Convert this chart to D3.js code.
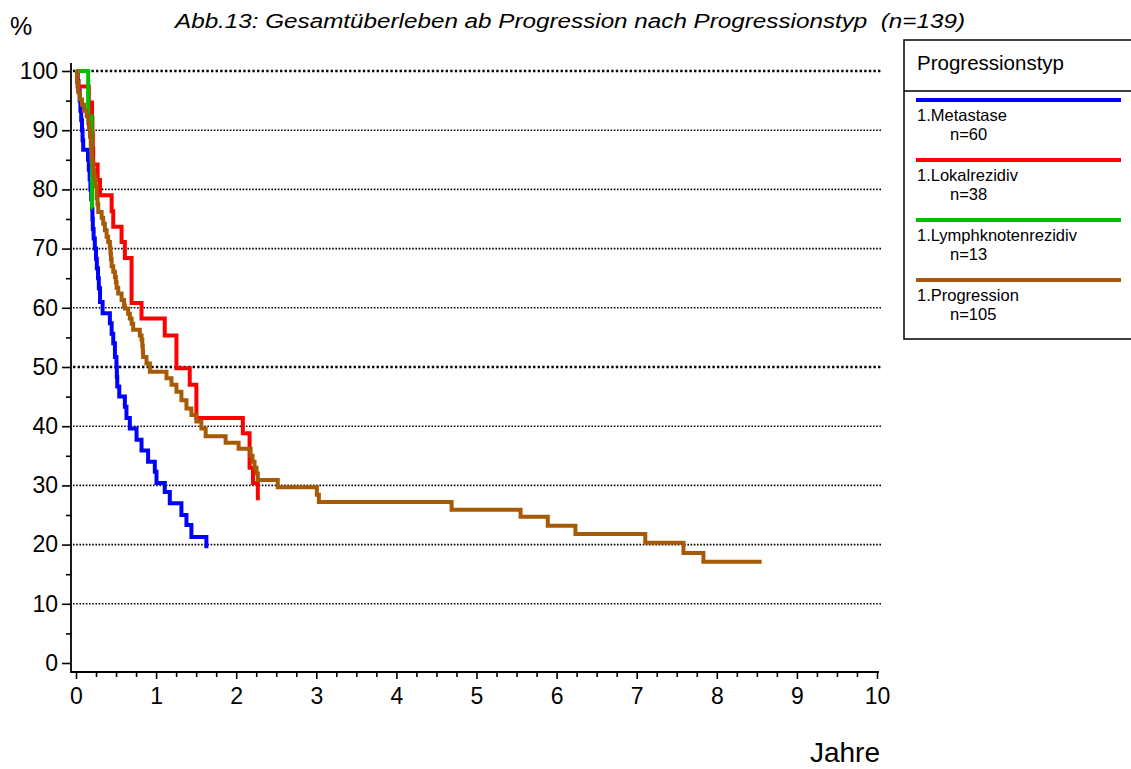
<!DOCTYPE html>
<html><head><meta charset="utf-8">
<script src="https://cdn.jsdelivr.net/npm/d3@7"></script>
<style>
html,body{margin:0;padding:0;background:#fff;}
svg{display:block;font-family:"Liberation Sans",Arial,sans-serif;}
</style></head>
<body>
<svg id="chart" width="1131" height="769"></svg>
<script>
// ---------- data ----------
const title = "Abb.13: Gesamtüberleben ab Progression nach Progressionstyp  (n=139)";
const yLabel = "%";
const xLabel = "Jahre";
const legendTitle = "Progressionstyp";
const seriesNames = ["1.Metastase", "1.Lokalrezidiv", "1.Lymphknotenrezidiv", "1.Progression"];
const seriesN = ["n=60", "n=38", "n=13", "n=105"];
const seriesColors = ["#0000ff", "#ff0000", "#00c000", "#a65a05"];
const xTicks = [0,1,2,3,4,5,6,7,8,9,10];
const yTicks = [0,10,20,30,40,50,60,70,80,90,100];

const metaT = [0,0.02,0.03,0.045,0.055,0.065,0.075,0.082,0.09,0.15,0.16,0.17,0.18,0.19,0.2,0.205,0.21,0.22,0.235,0.25,0.26,0.275,0.285,0.3,0.332,0.423,0.445,0.465,0.486,0.505,0.51,0.515,0.54,0.61,0.63,0.672,0.756,0.818,0.9,0.984,1.005,1.108,1.171,1.316,1.379,1.441,1.628];
const metaS = [100,98.3,96.7,95,93.3,91.7,90,88.3,86.7,85,83.3,81.7,80,78.3,76.7,75,73.3,71.7,70,68.3,66.7,65,63.3,61.0,59.1,57.4,55.6,54.0,51.7,50.0,48.3,46.7,45.0,43.3,41.4,39.6,37.7,35.9,34.0,32.3,30.4,28.9,27.0,25.0,23.3,21.3,19.4];

const lokalT = [0,0.02,0.16,0.2,0.205,0.21,0.215,0.27,0.3,0.445,0.465,0.569,0.61,0.694,0.818,1.108,1.254,1.42,1.503,2.083,2.167,2.21,2.27];
const lokalS = [100,97.4,94.7,92.1,89.5,86.8,84.2,81.6,79.0,76.3,73.7,71.1,68.4,60.8,58.2,55.3,49.8,47.0,41.4,38.8,33.0,30.4,27.5];

const lymphT = [0,0.152,0.195,0.2,0.205];
const lymphS = [100,92.3,84.6,76.9,76.9];

const progT = [0,0.012,0.029,0.05,0.075,0.1,0.133,0.153,0.162,0.174,0.184,0.19,0.196,0.205,0.215,0.224,0.237,0.247,0.258,0.268,0.278,0.32,0.34,0.361,0.382,0.402,0.423,0.43,0.436,0.445,0.465,0.486,0.498,0.507,0.527,0.569,0.6,0.61,0.651,0.672,0.694,0.714,0.797,0.818,0.828,0.834,0.838,0.88,0.922,1.13,1.192,1.254,1.316,1.379,1.441,1.503,1.565,1.619,1.868,2.03,2.18,2.204,2.229,2.254,2.27,2.519,3.007,3.032,4.689,5.55,5.89,6.235,7.107,7.584,7.833,8.56];
const progS = [100,98.1,96.4,95.2,94.3,93.3,92.4,91.2,90.2,88.9,87.6,86.5,85.5,84.4,83.3,82.4,81.6,80.5,78.5,77.5,76.2,75.2,74.2,73.1,72.0,71.1,70.2,69.2,68.2,67.0,66.1,65.2,64.3,63.4,62.4,61.3,60.4,59.9,59.0,58.2,57.3,56.3,55.3,54.6,53.6,52.6,51.7,50.6,49.2,48.1,47.0,45.8,44.4,43.0,41.9,40.8,39.6,38.3,37.2,36.2,35.0,34.0,33.0,32.0,30.9,29.7,28.4,27.2,25.9,24.7,23.2,21.8,20.3,18.6,17.1,17.1];

const seriesTimes = [metaT, lokalT, lymphT, progT];
const seriesSurv = [metaS, lokalS, lymphS, progS];

// ---------- drawing ----------
const FONT = "'Liberation Sans',Arial,sans-serif";
const svg = d3.select("#chart");
const x = d3.scaleLinear().domain([0,10]).range([76, 877]);
const y = d3.scaleLinear().domain([0,100]).range([663, 71]);
const axisX = 71, axisY = 672;

// title and labels
svg.append("text").attr("x", 570).attr("y", 28).attr("text-anchor","middle")
  .attr("font-size", 20.5).attr("font-style","italic").attr("textLength", 790).attr("lengthAdjust","spacingAndGlyphs")
  .attr("xml:space","preserve").style("white-space","pre")
  .text(title);
svg.append("text").attr("x", 10).attr("y", 35).attr("font-size", 25).text(yLabel);
svg.append("text").attr("x", 880).attr("y", 762).attr("text-anchor","end").attr("font-size", 28).text(xLabel);

// gridlines
const grid = svg.append("g");
yTicks.filter(v => v > 0).forEach(v => {
  const heavy = (v === 100 || v === 50);
  grid.append("line").attr("x1", 73).attr("x2", 881).attr("y1", y(v)).attr("y2", y(v))
    .attr("stroke","#000").attr("stroke-width", heavy ? 2.4 : 1.6)
    .attr("stroke-dasharray", heavy ? "2.4,2.2" : "1.6,1.6");
});

// y axis
const yMinor = d3.range(5, 100, 10);
const gy = svg.append("g").attr("transform", `translate(${axisX},0)`);
gy.call(d3.axisLeft(y).tickValues(yTicks).tickSize(9).tickPadding(4).tickFormat(d3.format("d")));
gy.select(".domain").remove();
gy.selectAll(".tick line").attr("stroke-width", 1.6);
gy.selectAll(".tick text").attr("font-size", 23).attr("font-family", FONT).attr("fill","#000");
const gyMinor = svg.append("g").attr("transform", `translate(${axisX},0)`);
gyMinor.call(d3.axisLeft(y).tickValues(yMinor).tickSize(5).tickFormat(""));
gyMinor.select(".domain").remove();
gyMinor.selectAll(".tick line").attr("stroke-width", 1.6);
svg.append("line").attr("x1", axisX).attr("x2", axisX).attr("y1", 63).attr("y2", axisY+1)
  .attr("stroke","#000").attr("stroke-width", 1.8);

// x axis
const xMinor = d3.range(0, 10.01, 0.25).filter(v => Math.abs(v - Math.round(v)) > 0.01);
const gx = svg.append("g").attr("transform", `translate(0,${axisY})`);
gx.call(d3.axisBottom(x).tickValues(xTicks).tickSize(7).tickPadding(9).tickFormat(d3.format("d")));
gx.select(".domain").remove();
gx.selectAll(".tick line").attr("stroke-width", 1.6);
gx.selectAll(".tick text").attr("font-size", 23).attr("font-family", FONT).attr("fill","#000");
const gxMinor = svg.append("g").attr("transform", `translate(0,${axisY})`);
gxMinor.call(d3.axisBottom(x).tickValues(xMinor).tickSize(5).tickFormat(""));
gxMinor.select(".domain").remove();
gxMinor.selectAll(".tick line").attr("stroke-width", 1.6);
svg.append("line").attr("x1", axisX).attr("x2", 879).attr("y1", axisY).attr("y2", axisY)
  .attr("stroke","#000").attr("stroke-width", 1.8);

// curves
const line = d3.line().x(d => x(d[0])).y(d => y(d[1])).curve(d3.curveStepAfter);
seriesTimes.forEach((ts, i) => {
  const pts = ts.map((t, j) => [t, seriesSurv[i][j]]);
  svg.append("path").attr("d", line(pts)).attr("fill","none")
    .attr("stroke", seriesColors[i]).attr("stroke-width", 4)
    .attr("stroke-linejoin","miter").attr("stroke-linecap","butt");
});

// legend
const lg = svg.append("g");
lg.append("rect").attr("x", 904).attr("y", 40).attr("width", 240).attr("height", 299)
  .attr("fill","#fff").attr("stroke","#000").attr("stroke-width", 1.5);
lg.append("line").attr("x1", 904).attr("x2", 1131).attr("y1", 91).attr("y2", 91)
  .attr("stroke","#000").attr("stroke-width", 1.5);
lg.append("text").attr("x", 917).attr("y", 70).attr("font-size", 20.5).text(legendTitle);
seriesNames.forEach((name, i) => {
  const ly = 100 + i * 60;
  lg.append("line").attr("x1", 916).attr("x2", 1121).attr("y1", ly).attr("y2", ly)
    .attr("stroke", seriesColors[i]).attr("stroke-width", 4);
  lg.append("text").attr("x", 917).attr("y", ly + 21).attr("font-size", 16.5).text(name);
  lg.append("text").attr("x", 950).attr("y", ly + 40).attr("font-size", 16.5).text(seriesN[i]);
});
</script>
</body></html>
